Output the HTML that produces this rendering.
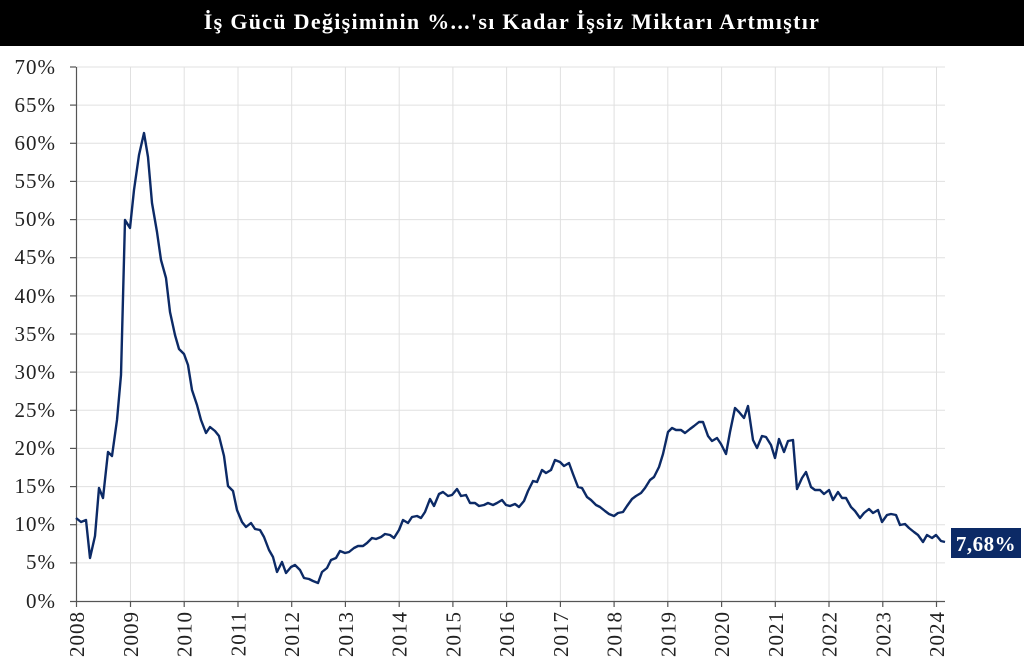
<!DOCTYPE html>
<html><head><meta charset="utf-8"><style>
html,body{margin:0;padding:0;background:#fff;}
svg{display:block;font-family:"Liberation Serif",serif;}
</style></head><body>
<svg width="1024" height="668" xmlns="http://www.w3.org/2000/svg">
<rect x="0" y="0" width="1024" height="46" fill="#000"/>
<text x="512" y="29" text-anchor="middle" fill="#fff" font-size="22" font-weight="bold" letter-spacing="1.3">İş Gücü Değişiminin %...'sı Kadar İşsiz Miktarı Artmıştır</text>
<g stroke="#e0e0e0" stroke-width="1">
<line x1="76" x2="945" y1="67" y2="67"/><line x1="76" x2="945" y1="105.1" y2="105.1"/><line x1="76" x2="945" y1="143.3" y2="143.3"/><line x1="76" x2="945" y1="181.4" y2="181.4"/><line x1="76" x2="945" y1="219.6" y2="219.6"/><line x1="76" x2="945" y1="257.7" y2="257.7"/><line x1="76" x2="945" y1="295.9" y2="295.9"/><line x1="76" x2="945" y1="334" y2="334"/><line x1="76" x2="945" y1="372.1" y2="372.1"/><line x1="76" x2="945" y1="410.3" y2="410.3"/><line x1="76" x2="945" y1="448.4" y2="448.4"/><line x1="76" x2="945" y1="486.6" y2="486.6"/><line x1="76" x2="945" y1="524.7" y2="524.7"/><line x1="76" x2="945" y1="562.9" y2="562.9"/>
<line y1="67" y2="601" x1="130.5" x2="130.5"/><line y1="67" y2="601" x1="184.2" x2="184.2"/><line y1="67" y2="601" x1="238" x2="238"/><line y1="67" y2="601" x1="291.7" x2="291.7"/><line y1="67" y2="601" x1="345.4" x2="345.4"/><line y1="67" y2="601" x1="399.2" x2="399.2"/><line y1="67" y2="601" x1="452.9" x2="452.9"/><line y1="67" y2="601" x1="506.6" x2="506.6"/><line y1="67" y2="601" x1="560.4" x2="560.4"/><line y1="67" y2="601" x1="614.1" x2="614.1"/><line y1="67" y2="601" x1="667.8" x2="667.8"/><line y1="67" y2="601" x1="721.6" x2="721.6"/><line y1="67" y2="601" x1="775.3" x2="775.3"/><line y1="67" y2="601" x1="829" x2="829"/><line y1="67" y2="601" x1="882.8" x2="882.8"/><line y1="67" y2="601" x1="936.5" x2="936.5"/>
</g>
<g stroke="#555" stroke-width="1.2">
<line x1="76.5" x2="76.5" y1="67" y2="607"/><line x1="70" x2="945" y1="601.5" y2="601.5"/>
<line x1="70" x2="76" y1="67" y2="67"/><line x1="70" x2="76" y1="105.1" y2="105.1"/><line x1="70" x2="76" y1="143.3" y2="143.3"/><line x1="70" x2="76" y1="181.4" y2="181.4"/><line x1="70" x2="76" y1="219.6" y2="219.6"/><line x1="70" x2="76" y1="257.7" y2="257.7"/><line x1="70" x2="76" y1="295.9" y2="295.9"/><line x1="70" x2="76" y1="334" y2="334"/><line x1="70" x2="76" y1="372.1" y2="372.1"/><line x1="70" x2="76" y1="410.3" y2="410.3"/><line x1="70" x2="76" y1="448.4" y2="448.4"/><line x1="70" x2="76" y1="486.6" y2="486.6"/><line x1="70" x2="76" y1="524.7" y2="524.7"/><line x1="70" x2="76" y1="562.9" y2="562.9"/>
<line y1="601" y2="607" x1="130.5" x2="130.5"/><line y1="601" y2="607" x1="184.2" x2="184.2"/><line y1="601" y2="607" x1="238" x2="238"/><line y1="601" y2="607" x1="291.7" x2="291.7"/><line y1="601" y2="607" x1="345.4" x2="345.4"/><line y1="601" y2="607" x1="399.2" x2="399.2"/><line y1="601" y2="607" x1="452.9" x2="452.9"/><line y1="601" y2="607" x1="506.6" x2="506.6"/><line y1="601" y2="607" x1="560.4" x2="560.4"/><line y1="601" y2="607" x1="614.1" x2="614.1"/><line y1="601" y2="607" x1="667.8" x2="667.8"/><line y1="601" y2="607" x1="721.6" x2="721.6"/><line y1="601" y2="607" x1="775.3" x2="775.3"/><line y1="601" y2="607" x1="829" x2="829"/><line y1="601" y2="607" x1="882.8" x2="882.8"/><line y1="601" y2="607" x1="936.5" x2="936.5"/>
</g>
<g font-size="21" fill="#222" text-anchor="end" letter-spacing="1">
<text x="56" y="74">70%</text><text x="56" y="112">65%</text><text x="56" y="150">60%</text><text x="56" y="188">55%</text><text x="56" y="226">50%</text><text x="56" y="264">45%</text><text x="56" y="303">40%</text><text x="56" y="341">35%</text><text x="56" y="379">30%</text><text x="56" y="417">25%</text><text x="56" y="455">20%</text><text x="56" y="493">15%</text><text x="56" y="531">10%</text><text x="56" y="569">5%</text><text x="56" y="608">0%</text>
</g>
<g font-size="21" fill="#222" text-anchor="end" letter-spacing="1">
<text transform="translate(84,611) rotate(-90)">2008</text><text transform="translate(138,611) rotate(-90)">2009</text><text transform="translate(191.7,611) rotate(-90)">2010</text><text transform="translate(245.5,611) rotate(-90)">2011</text><text transform="translate(299.2,611) rotate(-90)">2012</text><text transform="translate(352.9,611) rotate(-90)">2013</text><text transform="translate(406.7,611) rotate(-90)">2014</text><text transform="translate(460.4,611) rotate(-90)">2015</text><text transform="translate(514.1,611) rotate(-90)">2016</text><text transform="translate(567.9,611) rotate(-90)">2017</text><text transform="translate(621.6,611) rotate(-90)">2018</text><text transform="translate(675.3,611) rotate(-90)">2019</text><text transform="translate(729.1,611) rotate(-90)">2020</text><text transform="translate(782.8,611) rotate(-90)">2021</text><text transform="translate(836.5,611) rotate(-90)">2022</text><text transform="translate(890.3,611) rotate(-90)">2023</text><text transform="translate(944,611) rotate(-90)">2024</text>
</g>
<polyline fill="none" stroke="#0c2a66" stroke-width="2.4" stroke-linejoin="round" points="76,518 81,522 86,520 90,558 95,536 99,488 103,498 108,452 112,456 117,420 121,375 125,220 130,228 134,190 139,155 144,133 148,157 152,203 157,232 161,260 166,278 170,312 175,335 179,349 184,354 188,365 192,390 197,405 201,420 206,433 210,427 215,431 219,436 224,456 228,486 233,491 237,510 242,522 246,527 251,523 255,529 260,530 264,537 269,550 273,557 277,572 282,562 286,573 291,567 295,565 300,570 304,578 309,579 313,581 318,583 322,572 327,568 331,560 336,558 340,551 345,553 349,552 354,548 358,546 363,546 367,543 372,538 376,539 381,537 385,534 390,535 394,538 399,530 403,520 408,523 412,517 417,516 421,518 425,512 430,499 434,506 439,494 443,492 448,496 452,495 457,489 461,496 466,495 470,503 475,503 479,506 484,505 488,503 493,505 497,503 502,500 506,505 510,506 515,504 519,507 524,501 528,491 533,481 537,482 542,470 546,473 551,470 555,460 560,462 564,466 569,463 573,474 578,487 582,488 587,497 591,500 596,505 600,507 605,511 609,514 614,516 618,513 623,512 627,506 632,499 636,496 641,493 645,488 650,480 654,477 659,467 663,454 668,432 672,428 676,430 681,430 685,433 690,429 694,426 699,422 703,422 708,436 712,441 717,438 721,444 726,454 730,432 735,408 739,412 744,418 748,406 753,440 757,448 762,436 766,437 771,445 775,458 779,439 784,452 788,441 793,440 797,489 802,478 806,472 811,487 815,490 820,490 824,494 829,490 833,500 838,492 842,498 846,498 851,507 855,511 860,518 864,513 869,509 873,513 878,510 882,522 887,515 891,514 896,515 900,525 905,524 909,528 914,532 918,535 923,542 927,535 932,538 936,535 941,541 945,542"/>
<rect x="951" y="528" width="70" height="30" fill="#0c2a66"/>
<text x="986" y="551" text-anchor="middle" fill="#fff" font-size="21" font-weight="bold" letter-spacing="0.5">7,68%</text>
</svg>
</body></html>
